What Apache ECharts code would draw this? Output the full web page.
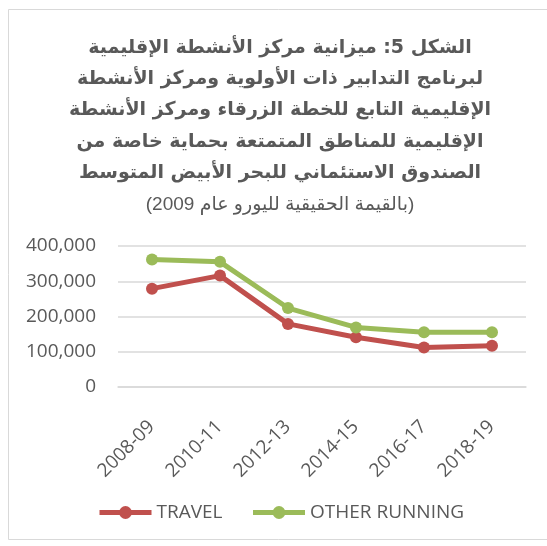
<!DOCTYPE html>
<html dir="ltr">
<head>
<meta charset="utf-8">
<script src="https://cdn.jsdelivr.net/npm/echarts@6/dist/echarts.min.js"></script>
<style>
  html, body { margin: 0; padding: 0; background: #fff; }
  #chart { width: 547px; height: 546px; }
</style>
</head>
<body>
<div id="chart"></div>
<script>
// 数据
const categories = ["2008-09", "2010-11", "2012-13", "2014-15", "2016-17", "2018-19"];
const travel = [279000, 316000, 179000, 141000, 112000, 117000];
const otherRunning = [362000, 355000, 224000, 169000, 155000, 155000];
const yTicks = [0, 100000, 200000, 300000, 400000];

const titleLines = [
  "الشكل 5: ميزانية مركز الأنشطة الإقليمية",
  "لبرنامج التدابير ذات الأولوية ومركز الأنشطة",
  "الإقليمية التابع للخطة الزرقاء ومركز الأنشطة",
  "الإقليمية للمناطق المتمتعة بحماية خاصة من",
  "الصندوق الاستئماني للبحر الأبيض المتوسط"
];
// 最后一行逐词画（富文本按 RTL 从右往左排），第一个词在最右边
const subWords = ["(2009", "عام", "لليورو", "الحقيقية", "بالقيمة)"];

const textColor = "#595959";
const font = "'Open Sans', 'DejaVu Sans', sans-serif";
const red = "#C0504D";
const green = "#9BBB59";

const chart = echarts.init(document.getElementById("chart"));

const option = {
  backgroundColor: "#fff",
  animation: false,
  graphic: [{
    type: "rect",
    left: 6,
    top: 7,
    shape: { width: 600, height: 530 },
    style: { fill: "none", stroke: "#d9d9d9", lineWidth: 1 },
    silent: true
  }],
  title: [
    {
      text: titleLines.join("\n"),
      left: 275,
      top: 27,
      textAlign: "center",
      textStyle: {
        color: textColor,
        fontFamily: "'DejaVu Sans', 'Liberation Sans', sans-serif",
        fontWeight: "bold",
        fontSize: 19,
        lineHeight: 31.4
      }
    },
    {
      text: subWords.map(w => "{w|" + w + "}").join("{w| }"),
      left: 275,
      top: 184,
      textAlign: "center",
      textStyle: {
        rich: {
          w: {
            color: textColor,
            fontFamily: "'Liberation Sans', 'DejaVu Sans', sans-serif",
            fontWeight: "normal",
            fontSize: 19,
            lineHeight: 31.4
          }
        }
      }
    }
  ],
  grid: {
    left: 118,
    right: 21,
    top: 246,
    bottom: 159,
    containLabel: false
  },
  legend: {
    left: 92,
    top: 498,
    itemWidth: 52,
    itemHeight: 16,
    itemGap: 28,
    lineStyle: { width: 5 },
    textStyle: {
      color: textColor,
      fontFamily: font,
      fontSize: 19
    },
    data: ["TRAVEL", "OTHER RUNNING"]
  },
  xAxis: {
    type: "category",
    data: categories,
    boundaryGap: true,
    axisTick: { show: false },
    axisLine: { show: true, lineStyle: { color: "#d9d9d9", width: 1.5 } },
    axisLabel: {
      interval: 0,
      rotate: 45,
      margin: 23,
      verticalAlign: "top",
      padding: [0, 10, 0, 0],
      color: textColor,
      fontFamily: font,
      fontSize: 19
    }
  },
  yAxis: {
    type: "value",
    min: yTicks[0],
    max: yTicks[yTicks.length - 1],
    interval: 100000,
    axisLine: { show: false },
    axisTick: { show: false },
    splitLine: { lineStyle: { color: "#d9d9d9", width: 1.5 } },
    axisLabel: {
      margin: 22,
      color: textColor,
      fontFamily: font,
      fontSize: 19,
      formatter: v => v.toLocaleString("en-US")
    }
  },
  series: [
    {
      name: "TRAVEL",
      type: "line",
      data: travel,
      symbol: "circle",
      symbolSize: 12,
      lineStyle: { color: red, width: 5 },
      itemStyle: { color: red }
    },
    {
      name: "OTHER RUNNING",
      type: "line",
      data: otherRunning,
      symbol: "circle",
      symbolSize: 12,
      lineStyle: { color: green, width: 5 },
      itemStyle: { color: green }
    }
  ]
};

chart.setOption(option);
</script>
</body>
</html>
